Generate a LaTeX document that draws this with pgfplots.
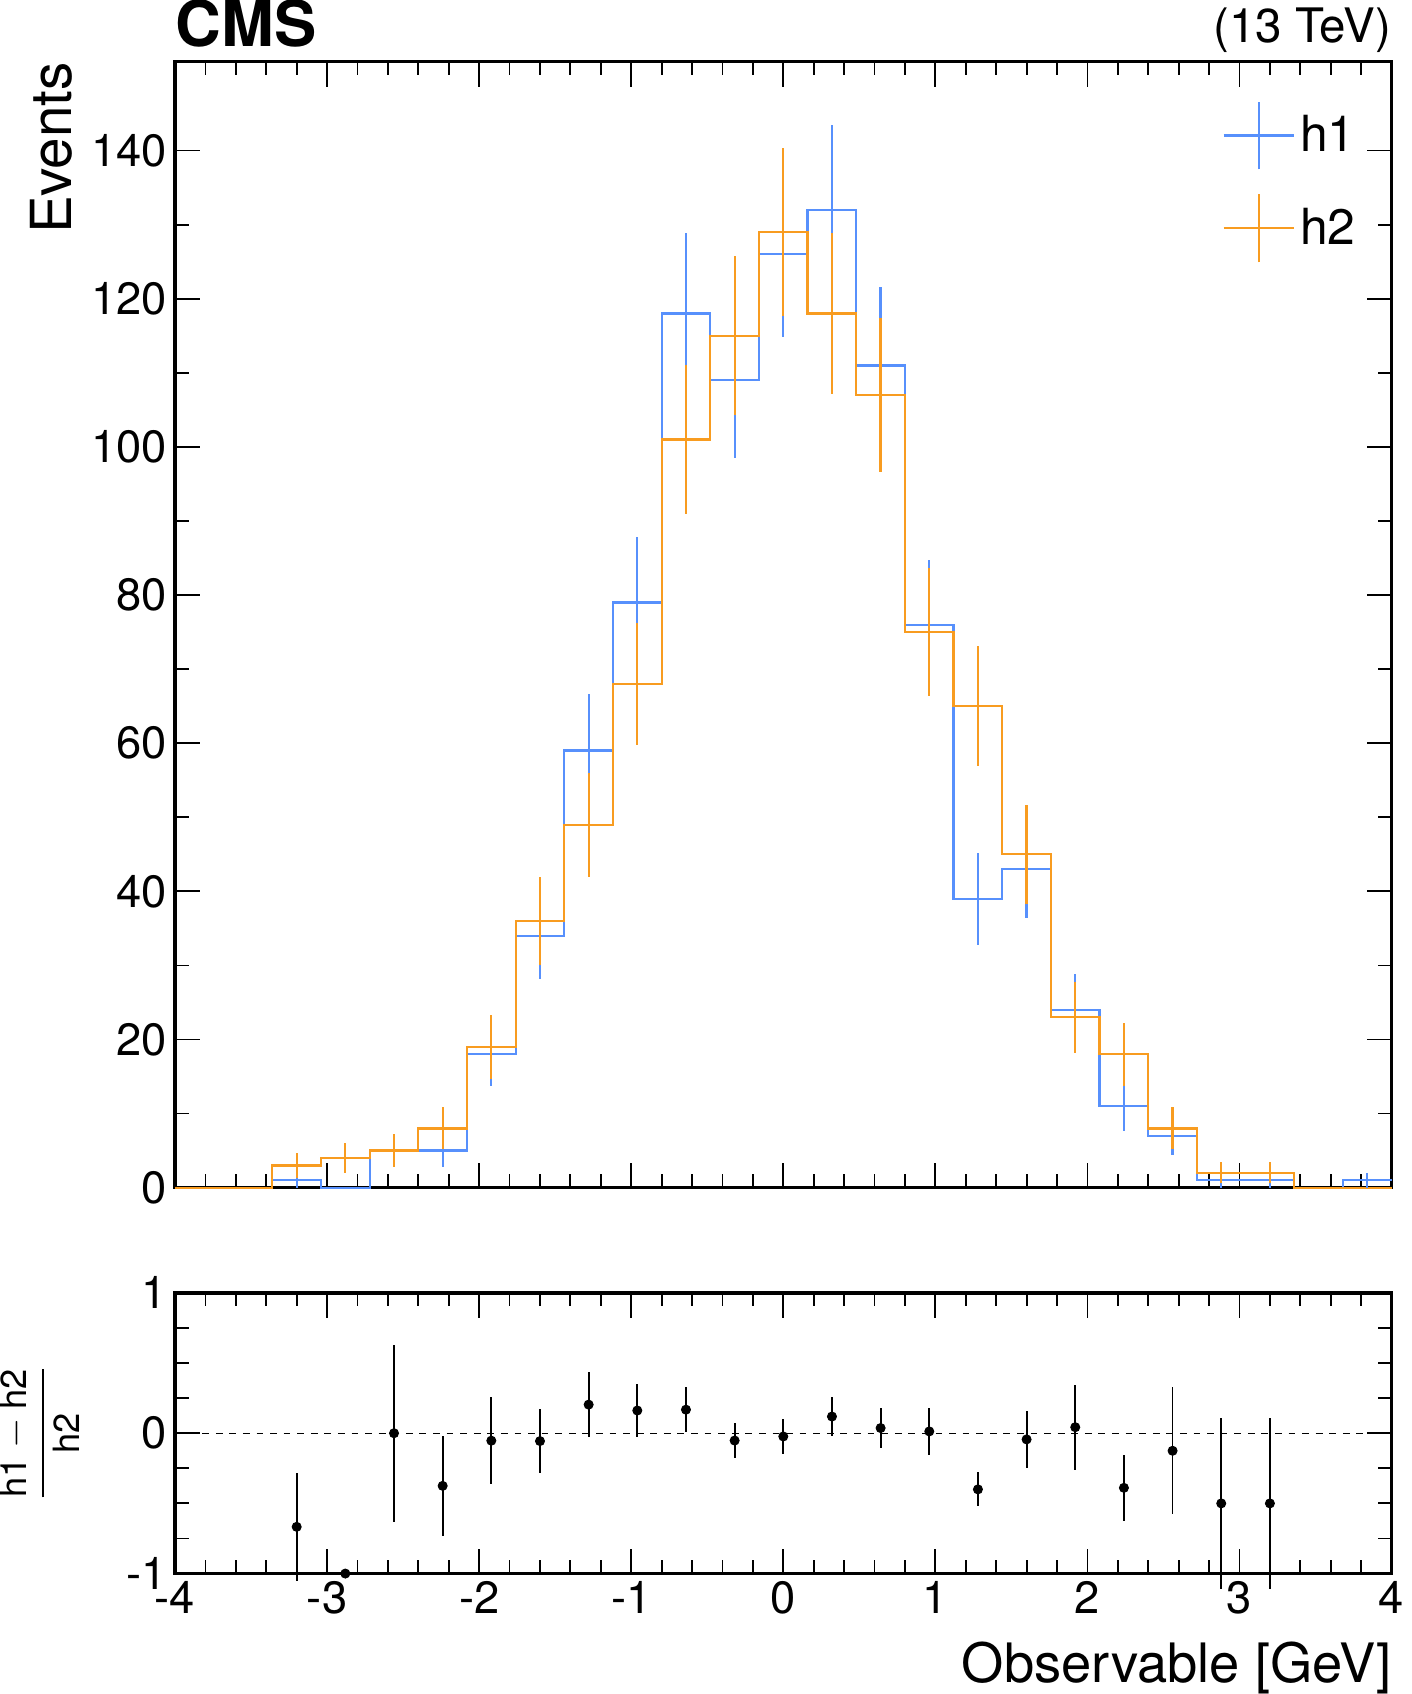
\documentclass[border=0pt]{standalone}
\usepackage{pgfplots}
\pgfplotsset{compat=1.18}
\usepackage{amsmath}
\usepackage{fontspec}
\setmainfont{TeX Gyre Heros}
\definecolor{cb}{HTML}{5790FC}
\definecolor{co}{HTML}{F89C20}
\begin{document}
\begin{tikzpicture}
\pgfplotsset{
  every axis/.append style={
    width=537.5pt, scale only axis, axis line style={line width=1.5pt},
    xmin=-4, xmax=4, tick align=inside, xtick pos=both, ytick pos=both,
    major tick length=11pt, minor tick length=6pt,
    every tick/.style={black, line width=0.8pt},
    tick label style={font=\fontsize{20}{24}\selectfont},
    /pgf/number format/assume math mode=true,
    xtick={-4,-3,...,4}, minor x tick num=4, clip=false,
  }}
\begin{axis}[name=top, height=497.5pt, ymin=0, ymax=152,
  ytick={0,20,...,140}, minor y tick num=1, xticklabels={},
  legend style={draw=none, fill=none, at={(0.98,0.97)}, anchor=north east, font=\fontsize{22}{26}\selectfont, row sep=10pt},
  legend cell align=left,
  legend image code/.code={\draw[#1] (0cm,0pt)--(1.1cm,0pt); \draw[#1] (0.55cm,-15pt)--(0.55cm,15pt);}]
\addplot[cb, line width=1pt, const plot mark left, forget plot] coordinates {
(-4,0)(-3.68,0)(-3.36,1)(-3.04,0)(-2.72,5)(-2.4,5)(-2.08,18)(-1.76,34)(-1.44,59)(-1.12,79)(-0.8,118)(-0.48,109)(-0.16,126)(0.16,132)(0.48,111)(0.8,76)(1.12,39)(1.44,43)(1.76,24)(2.08,11)(2.4,7)(2.72,1)(3.04,1)(3.36,0)(3.68,1)(4,1)};
\addplot[co, line width=1pt, const plot mark left, forget plot] coordinates {
(-4,0)(-3.68,0)(-3.36,3)(-3.04,4)(-2.72,5)(-2.4,8)(-2.08,19)(-1.76,36)(-1.44,49)(-1.12,68)(-0.8,101)(-0.48,115)(-0.16,129)(0.16,118)(0.48,107)(0.8,75)(1.12,65)(1.44,45)(1.76,23)(2.08,18)(2.4,8)(2.72,2)(3.04,2)(3.36,0)(3.68,0)(4,0)};
\addplot[cb, line width=1pt, draw=none, mark=none, error bars/.cd, y dir=both, y explicit, error bar style={cb, line width=1pt}, error mark=none] coordinates {
(-3.2,1)+-(0,1)(-2.56,5)+-(0,2.24)(-2.24,5)+-(0,2.24)(-1.92,18)+-(0,4.24)(-1.6,34)+-(0,5.83)(-1.28,59)+-(0,7.68)(-0.96,79)+-(0,8.89)(-0.64,118)+-(0,10.86)(-0.32,109)+-(0,10.44)(0,126)+-(0,11.22)(0.32,132)+-(0,11.49)(0.64,111)+-(0,10.54)(0.96,76)+-(0,8.72)(1.28,39)+-(0,6.24)(1.6,43)+-(0,6.56)(1.92,24)+-(0,4.9)(2.24,11)+-(0,3.32)(2.56,7)+-(0,2.65)(2.88,1)+-(0,1)(3.2,1)+-(0,1)(3.84,1)+-(0,1)};
\addlegendentry{h1}
\addplot[co, line width=1pt, draw=none, mark=none, error bars/.cd, y dir=both, y explicit, error bar style={co, line width=1pt}, error mark=none] coordinates {
(-3.2,3)+-(0,1.73)(-2.88,4)+-(0,2)(-2.56,5)+-(0,2.24)(-2.24,8)+-(0,2.83)(-1.92,19)+-(0,4.36)(-1.6,36)+-(0,6)(-1.28,49)+-(0,7)(-0.96,68)+-(0,8.25)(-0.64,101)+-(0,10.05)(-0.32,115)+-(0,10.72)(0,129)+-(0,11.36)(0.32,118)+-(0,10.86)(0.64,107)+-(0,10.34)(0.96,75)+-(0,8.66)(1.28,65)+-(0,8.06)(1.6,45)+-(0,6.71)(1.92,23)+-(0,4.8)(2.24,18)+-(0,4.24)(2.56,8)+-(0,2.83)(2.88,2)+-(0,1.41)(3.2,2)+-(0,1.41)};
\addlegendentry{h2}
\node[anchor=south west, font=\fontsize{28}{32}\selectfont\bfseries, inner sep=0pt] at (rel axis cs:0,1.012) {CMS};
\node[anchor=south east, font=\fontsize{21}{25}\selectfont, inner sep=0pt] at (rel axis cs:1,1.008) {(13 TeV)};
\node[rotate=90, anchor=south east, font=\fontsize{25}{30}\selectfont, inner sep=0pt] at (rel axis cs:-0.084,1) {Events};
\end{axis}
\begin{axis}[at={(top.south west)}, anchor=north west, yshift=-46.5pt, height=124pt,
  ymin=-1, ymax=1, ytick={-1,0,1}, minor y tick num=3]
\addplot[black, dashed, line width=0.6pt] coordinates {(-4,0)(4,0)};
\addplot[black, only marks, mark=*, mark size=2pt, error bars/.cd, y dir=both, y explicit, error bar style={black, line width=0.8pt}, error mark=none] coordinates {
(-3.2,-0.667)+-(0,0.385)(-2.88,-1)+-(0,0)(-2.56,0)+-(0,0.632)(-2.24,-0.375)+-(0,0.356)(-1.92,-0.053)+-(0,0.312)(-1.6,-0.056)+-(0,0.226)(-1.28,0.204)+-(0,0.233)(-0.96,0.162)+-(0,0.192)(-0.64,0.168)+-(0,0.158)(-0.32,-0.052)+-(0,0.127)(0,-0.023)+-(0,0.122)(0.32,0.119)+-(0,0.142)(0.64,0.037)+-(0,0.14)(0.96,0.013)+-(0,0.165)(1.28,-0.4)+-(0,0.122)(1.6,-0.044)+-(0,0.204)(1.92,0.043)+-(0,0.304)(2.24,-0.389)+-(0,0.234)(2.56,-0.125)+-(0,0.453)(2.88,-0.5)+-(0,0.612)(3.2,-0.5)+-(0,0.612)};
\node[anchor=north east, font=\fontsize{24}{28}\selectfont, inner sep=0pt] at ([yshift=-30pt]rel axis cs:1,0) {Observable [GeV]};
\node[rotate=90, anchor=south, font=\fontsize{16}{20}\selectfont, inner sep=0pt] at (rel axis cs:-0.078,0.5) {$\dfrac{\text{h1}-\text{h2}}{\text{h2}}$};
\end{axis}
\end{tikzpicture}
\end{document}
